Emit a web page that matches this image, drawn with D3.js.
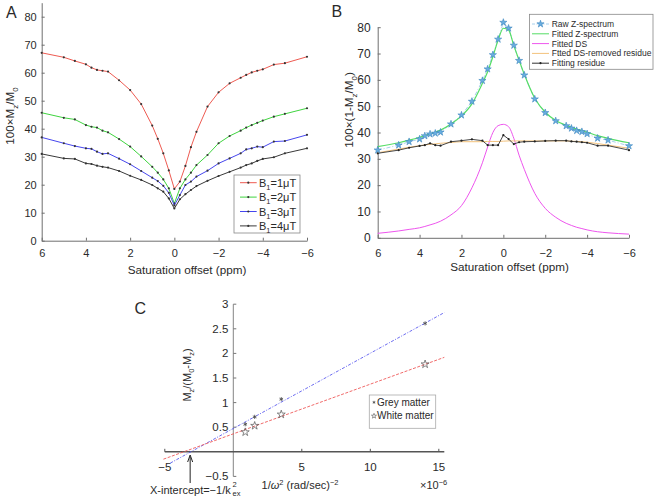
<!DOCTYPE html>
<html><head><meta charset="utf-8">
<script src="https://cdn.jsdelivr.net/npm/d3@7"></script>
<style>
body{margin:0;background:#fff}
svg{display:block}
text{font-family:"Liberation Sans",Arial,Helvetica,sans-serif;fill:#2a2a2a}
</style>
</head><body>
<svg id="chart" width="656" height="499"></svg>
<script>
// ---------- DATA ----------
const offsets = [6,5,4.5,4,3.75,3.5,3.25,3,2.5,2,1.5,1,0.75,0.5,0.25,0,-0.25,-0.5,-0.75,-1,-1.5,-2,-2.5,-3,-3.25,-3.5,-3.75,-4,-4.5,-5,-6];
const b1Labels = ["1","2","3","4"];
const zB1 = [67.1,65.5,64.2,63.0,61.8,61.0,60.7,60.4,57.3,53.8,48.8,41.1,36.4,31.2,25.1,18.5,21.1,26.7,33.4,38.9,47.9,53.0,56.2,58.2,59.2,60.1,60.7,61.2,62.9,63.4,65.7];
const zB2 = [45.7,43.9,43.3,41.3,40.7,40.4,39.3,38.7,36.3,33.6,30.1,26.4,24.3,21.9,18.7,13.3,18.7,21.9,24.3,27.0,30.6,34.8,37.4,39.3,40.4,41.3,42.1,42.9,44.3,45.3,47.3];
const zB3 = [36.9,34.8,33.8,33.0,32.8,31.8,31.0,31.2,29.3,27.3,24.9,22.5,21.3,19.6,17.1,12.6,16.3,19.9,21.1,22.9,25.0,27.6,29.4,31.2,32.6,33.0,33.6,33.4,35.4,35.6,37.8];
const zB4 = [31.0,29.4,29.2,27.6,27.4,26.8,26.4,26.1,24.9,23.2,21.7,19.9,18.7,17.5,15.1,11.5,14.8,16.6,18.1,19.5,21.4,23.1,24.6,26.1,27.0,27.6,28.5,29.2,29.8,31.2,33.0];

const rawZ     = [33.3,35.2,36.5,37.5,38.7,39.4,39.7,40.1,43.2,46.6,51.8,59.7,64.1,69.5,75.4,81.8,79.6,73.1,67.3,61.8,52.7,47.5,44.4,42.5,41.6,40.7,40.3,39.5,37.8,37.1,34.9];
const fittedZ  = [34.6,36.1,37.1,38.2,38.8,39.5,40.1,40.9,43.2,46.3,50.9,58.7,63.1,68.8,75.1,79.6,78.9,73.0,67.5,62.1,53.0,47.7,44.6,42.7,42.0,41.3,40.7,40.1,38.8,37.8,36.1];
const fittedDS = [1.7,2.6,3.2,3.8,4.3,4.9,5.5,6.3,8.7,12.2,19.0,28.5,34.5,40.0,42.6,43.1,42.2,37.8,31.4,26.0,16.9,11.2,7.8,5.5,4.7,4.0,3.5,3.0,2.3,1.9,1.4];
const dsRemoved= [32.3,33.7,34.4,35.0,35.3,35.5,35.7,35.9,36.2,36.5,36.5,36.5,36.6,36.6,36.6,36.7,36.8,36.8,36.8,36.8,36.8,36.8,36.8,36.8,36.7,36.6,36.5,36.3,35.8,35.2,34.0];
const residue  = [32.1,33.3,34.2,34.9,35.2,35.9,35.2,35.0,36.5,36.9,37.4,36.9,35.2,35.2,35.2,39.0,37.5,35.6,36.3,36.5,36.6,36.8,36.9,36.9,36.6,36.5,36.3,36.1,35.0,35.0,33.3];
const bLegend = ["Raw Z-spectrum","Fitted Z-spectrum","Fitted DS","Ftted DS-removed residue","Fitting residue"];

const invOmega2 = [0.87,1.56,3.5,14.0];           // x 1e-6
const greyMatter = [0.56,0.71,1.07,2.61];
const whiteMatter = [0.40,0.53,0.76,1.78];
const greyFitX = [-4.6,15.4], greyFitY = [-0.23,2.83];
const whiteFitX = [-5.1,15.4], whiteFitY = [-0.15,1.92];
const cLegend = ["Grey matter","White matter"];

const ticksA_y = [0,10,20,30,40,50,60,70,80];
const ticksB_y = [0,10,20,30,40,50,60,70,80];
const ticksX = [6,4,2,0,-2,-4,-6];
const ticksC_x = [-5,5,10,15];
const ticksC_y = [-0.5,0.5,1,1.5,2,2.5,3];

// ---------- HELPERS ----------
const svg = d3.select("#chart");
const AX = "#6e6e6e";
function rich(sel, parts, fs){
  let shift = 0;
  parts.forEach(p=>{
    const [t,type,ital] = p;
    const ts = sel.append("tspan").text(t);
    let target = 0;
    if(type==="sub") target = fs*0.3;
    if(type==="sup") target = -fs*0.4;
    ts.attr("dy", target - shift);
    shift = target;
    if(type) ts.attr("font-size", fs*0.68);
    if(ital) ts.attr("font-style","italic");
  });
  return sel;
}
function drawXAxis(g, x, yPos, ticks, fs, pad){
  const ax = d3.axisBottom(x).tickValues(ticks).tickSizeInner(-3).tickSizeOuter(0).tickPadding(pad)
    .tickFormat(d=> d<0 ? "\u2212"+(-d) : d);
  const a = g.append("g").attr("transform",`translate(0,${yPos})`).call(ax);
  a.select(".domain").attr("stroke",AX);
  a.selectAll(".tick line").attr("stroke",AX);
  a.selectAll(".tick text").attr("font-size",fs).attr("fill","#2a2a2a").attr("font-family",null);
  return a;
}
function drawYAxis(g, y, xPos, ticks, fs, pad){
  const ax = d3.axisLeft(y).tickValues(ticks).tickSizeInner(-3).tickSizeOuter(0).tickPadding(pad)
    .tickFormat(d=> d<0 ? "\u2212"+(-d) : d);
  const a = g.append("g").attr("transform",`translate(${xPos},0)`).call(ax);
  a.select(".domain").attr("stroke",AX);
  a.selectAll(".tick line").attr("stroke",AX);
  a.selectAll(".tick text").attr("font-size",fs).attr("fill","#2a2a2a").attr("font-family",null);
  return a;
}

// ---------- PANEL A ----------
const xA = d3.scaleLinear().domain([6,-6]).range([41.7,307]);
const yA = d3.scaleLinear().domain([0,85]).range([240.7,2.7]);
const gA = svg.append("g");
drawYAxis(gA, yA, 41.7, ticksA_y, 11, 5);
drawXAxis(gA, xA, 240.7, ticksX, 11, 8.8);
const seriesA = [zB1,zB2,zB3,zB4];
const colA = ["#ee5b52","#3fd43f","#4646ee","#3a3a3a"];
const lineA = d3.line().x((d,i)=>xA(offsets[i])).y(d=>yA(d));
seriesA.forEach((s,k)=>{
  gA.append("path").attr("d",lineA(s)).attr("fill","none").attr("stroke",colA[k]).attr("stroke-width",1);
  gA.selectAll(null).data(s).enter().append("circle")
    .attr("cx",(d,i)=>xA(offsets[i])).attr("cy",d=>yA(d)).attr("r",1.1).attr("fill","#333");
});
gA.append("text").attr("x",6).attr("y",18).attr("font-size",16).text("A");
gA.append("text").attr("x",187).attr("y",274).attr("text-anchor","middle").attr("font-size",11.7).text("Saturation offset (ppm)");
rich(gA.append("text").attr("transform","translate(14,116) rotate(-90)").attr("text-anchor","middle").attr("font-size",11.7),
  [["100×M"],["z","sub"],["/M",""],["0","sub"]],11.7);
// legend A
const lgA = gA.append("g");
lgA.append("rect").attr("x",234).attr("y",175).attr("width",66).attr("height",58).attr("fill","#fff").attr("stroke","#888").attr("stroke-width",0.8);
b1Labels.forEach((b,k)=>{
  const yy = 182.7 + k*14.4;
  lgA.append("line").attr("x1",240).attr("x2",256.7).attr("y1",yy).attr("y2",yy).attr("stroke",colA[k]);
  lgA.append("circle").attr("cx",248.3).attr("cy",yy).attr("r",1.1).attr("fill","#333");
  rich(lgA.append("text").attr("x",259).attr("y",yy+4).attr("font-size",11),[["B"],["1","sub"],["="+b+"μT",""]],11);
});

// ---------- PANEL B ----------
const xB = d3.scaleLinear().domain([6,-6]).range([377.7,629]);
const yB = d3.scaleLinear().domain([0,80]).range([237.8,27.2]);
const gB = svg.append("g");
drawYAxis(gB, yB, 377.7, ticksB_y, 12, 7);
drawXAxis(gB, xB, 237.8, ticksX, 11, 11.7);
const lineB = d3.line().x((d,i)=>xB(offsets[i])).y(d=>yB(d));
const smoothB = d3.line().x((d,i)=>xB(offsets[i])).y(d=>yB(d)).curve(d3.curveMonotoneX);
gB.append("path").attr("d",smoothB(fittedDS)).attr("fill","none").attr("stroke","#ee55ee").attr("stroke-width",1);
gB.append("path").attr("d",smoothB(dsRemoved)).attr("fill","none").attr("stroke","#f3c27c").attr("stroke-width",1);
gB.append("path").attr("d",lineB(residue)).attr("fill","none").attr("stroke","#333").attr("stroke-width",0.9);
gB.selectAll(null).data(residue).enter().append("circle")
  .attr("cx",(d,i)=>xB(offsets[i])).attr("cy",d=>yB(d)).attr("r",1.1).attr("fill","#222");
gB.append("path").attr("d",lineB(rawZ)).attr("fill","none").attr("stroke","#a8d0ec").attr("stroke-width",1).attr("stroke-dasharray","4,2,1,2");
gB.append("path").attr("d",smoothB(fittedZ)).attr("fill","none").attr("stroke","#55dd66").attr("stroke-width",1.2);
const star = d3.symbol().type(d3.symbolStar).size(16);
gB.selectAll(null).data(rawZ).enter().append("path").attr("d",star)
  .attr("transform",(d,i)=>`translate(${xB(offsets[i])},${yB(d)})`)
  .attr("fill","#6aaee0").attr("stroke","#3d86bf").attr("stroke-width",0.6);
gB.append("text").attr("x",331.5).attr("y",17).attr("font-size",16).text("B");
gB.append("text").attr("x",509.5).attr("y",270.5).attr("text-anchor","middle").attr("font-size",11.7).text("Saturation offset (ppm)");
rich(gB.append("text").attr("transform","translate(353,110) rotate(-90)").attr("text-anchor","middle").attr("font-size",11.7),
  [["100×(1-M"],["z","sub"],["/M",""],["0","sub"],[")",""]],11.7);
// legend B
const lgB = gB.append("g");
lgB.append("rect").attr("x",529.5).attr("y",14.3).attr("width",123.5).attr("height",55).attr("fill","#fff").attr("stroke","#888").attr("stroke-width",0.8);
const colB = ["#a8d0ec","#55dd66","#ee55ee","#f3c27c","#333"];
bLegend.forEach((t,k)=>{
  const yy = 24 + k*9.8;
  const ln = lgB.append("line").attr("x1",532).attr("x2",549).attr("y1",yy).attr("y2",yy).attr("stroke",colB[k]).attr("stroke-width",1);
  if(k===0){ ln.attr("stroke-dasharray","3,1.5,1,1.5");
    lgB.append("path").attr("d",star).attr("transform",`translate(540.5,${yy})`).attr("fill","#6aaee0").attr("stroke","#3d86bf").attr("stroke-width",0.6); }
  if(k===4) lgB.append("circle").attr("cx",540.5).attr("cy",yy).attr("r",1.1).attr("fill","#222");
  lgB.append("text").attr("x",551.7).attr("y",yy+3).attr("font-size",8.5).text(t);
});

// ---------- PANEL C ----------
const xC = d3.scaleLinear().domain([-5,15.4]).range([164.8,444.3]);
const yC = d3.scaleLinear().domain([-0.5,3]).range([476.4,304.2]);
const gC = svg.append("g");
gC.append("line").attr("x1",xC(0)).attr("x2",xC(0)).attr("y1",yC(3)).attr("y2",yC(-0.5)).attr("stroke","#777").attr("stroke-width",0.9);
ticksC_y.forEach(v=>{
  gC.append("line").attr("x1",xC(0)).attr("x2",xC(0)+3).attr("y1",yC(v)).attr("y2",yC(v)).attr("stroke","#777");
  gC.append("text").attr("x",xC(0)-5).attr("y",yC(v)+4).attr("text-anchor","end").attr("font-size",11.5)
    .text(v<0 ? "\u2212"+(-v) : v);
});
gC.append("line").attr("x1",xC(-5)).attr("x2",xC(15.4)).attr("y1",yC(0)).attr("y2",yC(0)).attr("stroke","#555").attr("stroke-width",1.6);
ticksC_x.forEach(v=>{
  gC.append("line").attr("x1",xC(v)).attr("x2",xC(v)).attr("y1",yC(0)).attr("y2",yC(0)-3).attr("stroke","#555");
  gC.append("text").attr("x",xC(v)).attr("y",yC(0)+19).attr("text-anchor","middle").attr("font-size",11.5)
    .text(v<0 ? "\u2212"+(-v) : v);
});
const lineC = d3.line().x(d=>xC(d[0])).y(d=>yC(d[1]));
gC.append("path").attr("d",lineC(d3.zip(greyFitX,greyFitY))).attr("stroke","#5a5aee").attr("stroke-width",0.9).attr("fill","none").attr("stroke-dasharray","3,1.5,1,1.5");
gC.append("path").attr("d",lineC(d3.zip(whiteFitX,whiteFitY))).attr("stroke","#ee5a5a").attr("stroke-width",0.9).attr("fill","none").attr("stroke-dasharray","3,1.5");
const ast = d3.symbol().type(d3.symbolAsterisk).size(12);
const pent = d3.symbol().type(d3.symbolStar).size(20);
gC.selectAll(null).data(greyMatter).enter().append("path").attr("d",ast)
  .attr("transform",(d,i)=>`translate(${xC(invOmega2[i])},${yC(d)})`).attr("stroke","#444").attr("stroke-width",0.8).attr("fill","none");
gC.selectAll(null).data(whiteMatter).enter().append("path").attr("d",pent)
  .attr("transform",(d,i)=>`translate(${xC(invOmega2[i])},${yC(d)})`).attr("stroke","#555").attr("stroke-width",0.7).attr("fill","none");
gC.append("text").attr("x",134.5).attr("y",314).attr("font-size",16).text("C");
rich(gC.append("text").attr("transform","translate(191,375) rotate(-90)").attr("text-anchor","middle").attr("font-size",11),
  [["M"],["z","sub"],["/(M",""],["0","sub"],["-M",""],["z","sub"],[")",""]],11);
rich(gC.append("text").attr("x",300).attr("y",489).attr("text-anchor","middle").attr("font-size",11),
  [["1/"],["ω","",true],["2","sup"],[" (rad/sec)",""],["\u22122","sup"]],11);
rich(gC.append("text").attr("x",420).attr("y",489).attr("font-size",11),[["×10"],["\u22126","sup"]],11);
const xi = gC.append("text").attr("x",150).attr("y",494).attr("font-size",11);
xi.append("tspan").text("X-intercept=\u22121/k");
const kx = 232.5;
gC.append("text").attr("x",kx).attr("y",487).attr("font-size",7.5).text("2");
gC.append("text").attr("x",kx).attr("y",496).attr("font-size",7.5).text("ex");
const arrX = xC(-3.15);
gC.append("line").attr("x1",arrX).attr("x2",arrX).attr("y1",483).attr("y2",457).attr("stroke","#222").attr("stroke-width",1);
gC.append("path").attr("d",`M${arrX-2.5},${462} L${arrX},${455} L${arrX+2.5},${462}`).attr("stroke","#222").attr("fill","none").attr("stroke-width",1);
const lgC = gC.append("g");
lgC.append("rect").attr("x",369.3).attr("y",395).attr("width",66.4).attr("height",33.3).attr("fill","#fff").attr("stroke","#aaa").attr("stroke-width",0.8);
lgC.append("path").attr("d",d3.symbol().type(d3.symbolAsterisk).size(6)).attr("transform","translate(374,402.3)").attr("stroke","#444").attr("stroke-width",0.7);
lgC.append("path").attr("d",d3.symbol().type(d3.symbolStar).size(8)).attr("transform","translate(374,416)").attr("stroke","#555").attr("stroke-width",0.6).attr("fill","none");
cLegend.forEach((t,k)=>{
  lgC.append("text").attr("x",377).attr("y",406 + k*13.4).attr("font-size",10).text(t);
});
</script>
</body></html>
